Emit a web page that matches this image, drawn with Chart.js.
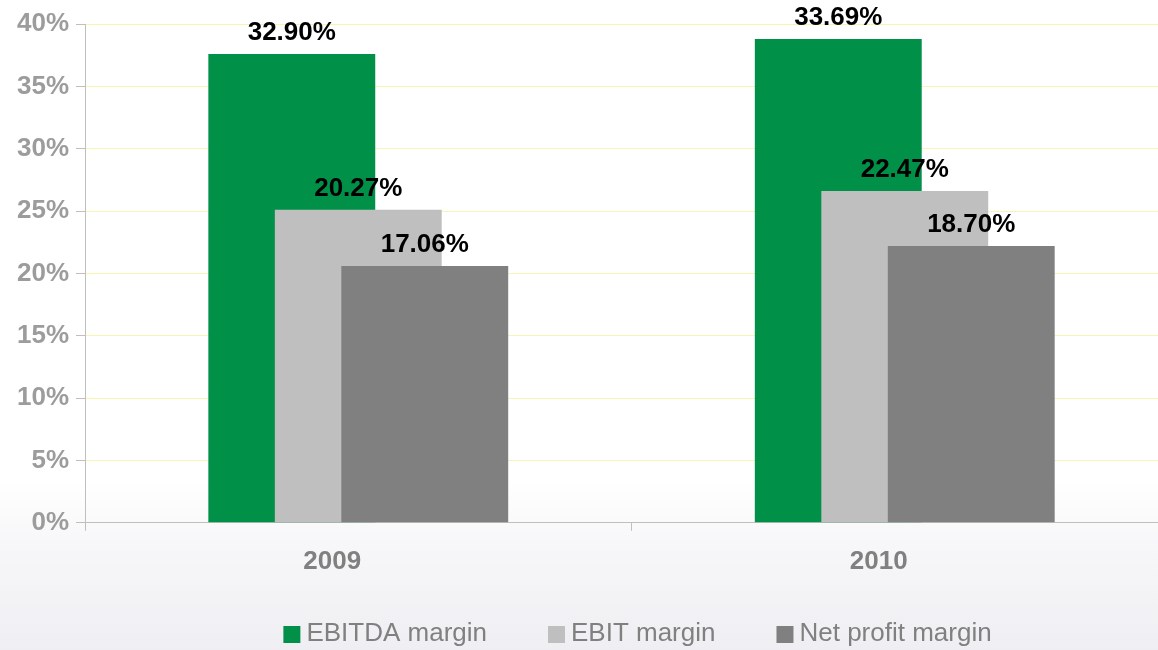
<!DOCTYPE html>
<html>
<head>
<meta charset="utf-8">
<script src="https://cdn.jsdelivr.net/npm/chart.js@4.4.1/dist/chart.umd.min.js"></script>
<style>
  html, body { margin: 0; padding: 0; overflow: hidden; width: 1158px; height: 650px; }
  body {
    background: linear-gradient(180deg, #ffffff 0%, #ffffff 74%, #f7f7f9 84%, #efeff3 100%);
  }
  #wrap { position: absolute; left: 0; top: 0; width: 1180px; height: 650px; }
</style>
</head>
<body>
<div id="wrap"><canvas id="c"></canvas></div>
<script>
// ---- data ----
const categories = ['2009', '2010'];
const seriesNames = ['EBITDA margin', 'EBIT margin', 'Net profit margin'];
const ebitdaValues = [37.6, 38.8];
const ebitValues = [25.1, 26.6];
const netValues = [20.6, 22.2];
const ebitdaLabels = ['32.90%', '33.69%'];
const ebitLabels = ['20.27%', '22.47%'];
const netLabels = ['17.06%', '18.70%'];
const yTickLabels = ['0%', '5%', '10%', '15%', '20%', '25%', '30%', '35%', '40%'];

// ---- styles ----
const FONT = '"Liberation Sans", Arial, Helvetica, sans-serif';
const seriesColors = ['#009048', '#bfbfbf', '#808080'];

// draw datasets left-to-right so later series overlap earlier ones
const forwardDraw = {
  id: 'forwardDraw',
  beforeDatasetsDraw(chart) {
    if (typeof chart._drawDataset !== 'function') return;
    const metas = chart.getSortedVisibleDatasetMetas();
    for (const m of metas) chart._drawDataset(m);
    return false;
  }
};

const valueLabelsPlugin = {
  id: 'valueLabels',
  afterDraw(chart) {
    const ctx = chart.ctx;
    ctx.save();
    ctx.font = 'bold 26px ' + FONT;
    ctx.fillStyle = '#000000';
    ctx.textAlign = 'center';
    ctx.textBaseline = 'alphabetic';
    chart.data.datasets.forEach((ds, i) => {
      const meta = chart.getDatasetMeta(i);
      meta.data.forEach((el, j) => {
        ctx.fillText(ds.valueLabels[j], el.x, el.y - 14);
      });
    });
    ctx.restore();
  }
};

const legendPlugin = {
  id: 'customLegend',
  afterDraw(chart) {
    const ctx = chart.ctx;
    const box = 17, gap = 6, itemGap = 61;
    ctx.save();
    ctx.font = '26px ' + FONT;
    const widths = chart.data.datasets.map(ds => box + gap + ctx.measureText(ds.label).width);
    const total = widths.reduce((a, b) => a + b, 0) + itemGap * (widths.length - 1);
    const ca = chart.chartArea;
    let x = (ca.left + ca.right) / 2 + 6 - total / 2;
    const boxTop = 626, baseline = 641;
    chart.data.datasets.forEach((ds, i) => {
      ctx.fillStyle = ds.backgroundColor;
      ctx.fillRect(x, boxTop, box, box);
      ctx.fillStyle = '#808080';
      ctx.textAlign = 'left';
      ctx.textBaseline = 'alphabetic';
      ctx.fillText(ds.label, x + box + gap, baseline);
      x += widths[i] + itemGap;
    });
    ctx.restore();
  }
};

const datasets = [
  { label: seriesNames[0], data: ebitdaValues, valueLabels: ebitdaLabels, backgroundColor: seriesColors[0] },
  { label: seriesNames[1], data: ebitValues, valueLabels: ebitLabels, backgroundColor: seriesColors[1] },
  { label: seriesNames[2], data: netValues, valueLabels: netLabels, backgroundColor: seriesColors[2] }
];

new Chart(document.getElementById('c'), {
  type: 'bar',
  data: { labels: categories, datasets: datasets },
  options: {
    responsive: true,
    maintainAspectRatio: false,
    animation: false,
    datasets: { bar: { categoryPercentage: 0.365, barPercentage: 2.51, borderWidth: 0 } },
    layout: { padding: { left: 10, right: 2, top: 24, bottom: 58 } },
    plugins: {
      legend: { display: false },
      tooltip: { enabled: false }
    },
    scales: {
      x: {
        grid: { display: true, drawOnChartArea: false, drawTicks: true, tickLength: 8, color: '#bfbfbf', offset: true },
        border: { display: true, color: '#bfbfbf', width: 1 },
        ticks: {
          color: '#808080',
          font: { family: FONT, size: 26, weight: 'bold' },
          padding: 15,
          labelOffset: -26,
          maxRotation: 0
        }
      },
      y: {
        min: 0,
        max: 40,
        grid: { color: '#f6f6b0', tickColor: '#bfbfbf', tickLength: 9, lineWidth: 1 },
        border: { display: true, color: '#bfbfbf', width: 1 },
        ticks: {
          stepSize: 5,
          color: '#9c9c9c',
          padding: 7,
          font: { family: FONT, size: 26, weight: 'bold' },
          callback: (v, i) => yTickLabels[i]
        }
      }
    }
  },
  plugins: [forwardDraw, valueLabelsPlugin, legendPlugin]
});
</script>
</body>
</html>
